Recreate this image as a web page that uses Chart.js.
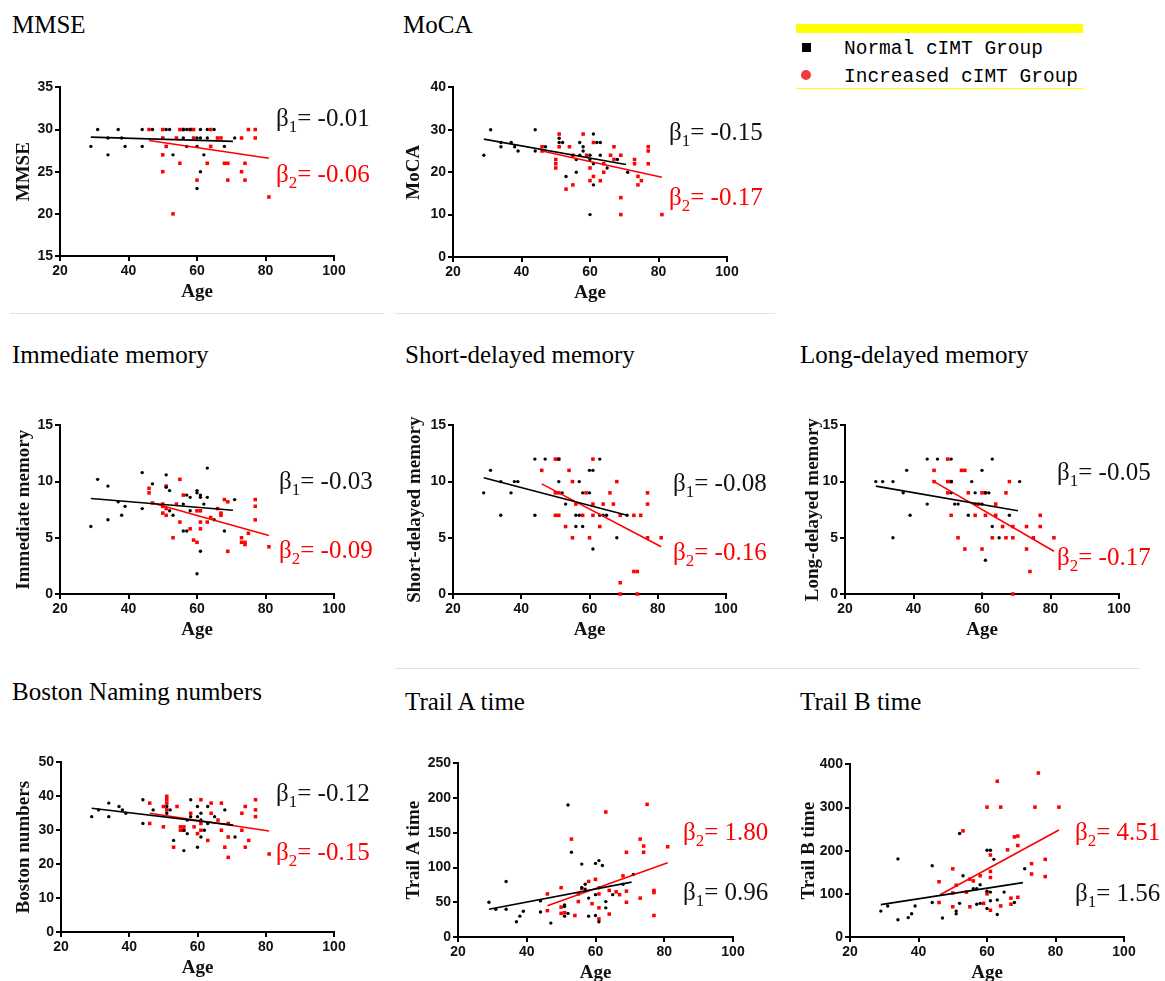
<!DOCTYPE html>
<html>
<head>
<meta charset="utf-8">
<script src="https://cdn.jsdelivr.net/npm/chart.js@4.4.0/dist/chart.umd.min.js"></script>
<style>
  body { margin: 0; background: #fff; }
  #page { position: relative; width: 1165px; height: 981px; overflow: hidden; background: #fff; }
  canvas { position: absolute; }
  .ttl { position: absolute; font-family: "Liberation Serif", "Times New Roman", serif; font-size: 25px; line-height: 25px; white-space: nowrap; color: #000; }
  .beta { position: absolute; font-family: "Liberation Serif", "Times New Roman", serif; font-size: 25px; line-height: 24px; white-space: nowrap; }
  .beta sub { font-size: 17px; line-height: 0; vertical-align: -6px; }
  .sep { position: absolute; height: 1px; background: #e4e4e4; }
  .leg { position: absolute; font-family: "Liberation Mono", "DejaVu Sans Mono", monospace; font-size: 19.5px; line-height: 20px; white-space: nowrap; color: #000; }
</style>
</head>
<body>
<div id="page"></div>
<script>
// age axis is the same in every panel
const ageTicks = [20, 40, 60, 80, 100];

// [age, score] pairs
const mmseNormal = [[29,28],[31,30],[34,29],[34,27],[37,30],[38,29],[39,28],[44,30],[44,28],[47,30],[51,30],[52,30],[53,27],[56,29],[56,30],[57,30],[58,30],[57,28],[60,28],[60,29],[61,29],[61,30],[60,23],[61,25],[62,27],[63,29],[63,30],[65,30],[68,28],[71,29]];
const mmseIncreased = [[46,30],[50,30],[50,29],[50,27],[50,25],[51,28],[53,20],[54,29],[55,30],[55,26],[56,30],[58,30],[59,30],[59,29],[60,24],[63,26],[64,30],[64,28],[66,29],[67,29],[68,26],[69,26],[69,24],[73,29],[73,25],[74,26],[74,24],[75,30],[77,30],[77,29],[81,22]];
const mmseFitNormal = [[29,29.1],[70.5,28.6]];
const mmseFitIncreased = [[46,28.7],[81,26.6]];

const mocaNormal = [[29,24],[31,30],[34,27],[34,26],[37,27],[38,26],[39,25],[44,30],[44,25],[47,26],[51,28],[51,27],[52,27],[53,19],[56,20],[56,23],[57,27],[57,24],[58,26],[58,25],[60,24],[60,23],[60,10],[61,29],[61,17],[61,22],[62,27],[63,27],[63,24],[65,21],[68,23],[71,20]];
const mocaIncreased = [[46,26],[46,25],[50,23],[50,22],[50,21],[51,29],[51,26],[53,16],[54,26],[55,24],[55,17],[58,29],[59,24],[60,21],[60,18],[61,27],[61,19],[63,18],[64,22],[64,20],[66,24],[67,26],[67,23],[69,24],[69,14],[69,10],[73,23],[73,22],[74,19],[74,17],[75,18],[77,26],[77,25],[77,22],[81,10]];
const mocaFitNormal = [[29,27.8],[70.5,21.8]];
const mocaFitIncreased = [[46,25.0],[81,18.8]];

const immNormal = [[29,6.0],[31,10.2],[34,9.6],[34,6.6],[37,8.2],[38,7.0],[39,7.8],[44,10.8],[44,7.6],[47,9.8],[51,10.6],[51,9.5],[52,9.2],[52,7.4],[53,7.0],[56,8.0],[56,5.6],[57,5.6],[57,8.8],[58,8.6],[58,7.4],[60,9.2],[60,9.0],[60,1.8],[61,8.8],[61,8.6],[61,3.8],[62,8.0],[63,11.2],[63,8.6],[65,6.6],[68,5.6],[71,8.4]];
const immIncreased = [[46,9.4],[46,9.0],[47,8.1],[50,8.0],[50,7.8],[50,7.2],[51,9.6],[51,7.6],[51,7.0],[53,5.0],[54,8.0],[55,10.2],[55,6.4],[56,8.8],[58,5.8],[59,4.8],[60,4.6],[60,7.4],[61,7.4],[61,6.4],[61,5.8],[63,6.4],[64,6.8],[66,7.6],[67,7.2],[67,7.0],[68,8.4],[69,8.2],[69,3.8],[73,5.0],[73,4.6],[74,4.6],[74,4.4],[75,5.4],[77,8.4],[77,7.8],[77,6.6],[81,4.2]];
const immFitNormal = [[29,8.5],[70.5,7.45]];
const immFitIncreased = [[47,8.1],[81,5.2]];

const shortNormal = [[29,9],[31,11],[34,10],[34,7],[37,9],[38,10],[39,10],[44,12],[44,7],[47,12],[51,12],[51,10],[52,9],[53,8],[56,6],[56,7],[57,7],[57,10],[58,6],[58,9],[60,9],[60,11],[61,11],[61,4],[63,12],[63,7],[64,7],[65,7],[68,5],[71,7]];
const shortIncreased = [[46,11],[50,12],[51,12],[50,9],[51,9],[50,7],[51,7],[53,6],[54,11],[55,10],[55,5],[56,8],[58,7],[59,9],[60,5],[61,12],[61,8],[61,7],[63,6],[64,8],[66,9],[67,8],[68,10],[69,7],[69,1],[69,0],[73,7],[73,2],[74,2],[74,0],[75,7],[77,9],[77,8],[77,5],[81,5]];
const shortFitNormal = [[29,10.35],[71,7.0]];
const shortFitIncreased = [[46,9.8],[81,4.2]];

const longNormal = [[29,10],[31,10],[34,10],[34,5],[37,9],[38,11],[39,7],[44,12],[44,8],[47,12],[51,12],[51,10],[51,9],[52,8],[53,8],[56,7],[57,10],[58,9],[58,8],[60,11],[60,8],[60,0],[61,9],[62,9],[61,3],[63,12],[63,6],[65,5],[68,7],[71,10]];
const longIncreased = [[46,11],[46,10],[50,12],[50,10],[51,10],[50,9],[51,7],[53,5],[54,11],[55,11],[55,4],[56,9],[58,7],[59,8],[60,4],[60,9],[61,9],[61,7],[63,5],[64,8],[64,7],[66,6],[67,5],[67,9],[68,10],[69,6],[69,5],[69,0],[73,6],[73,4],[74,2],[75,5],[77,7],[77,6],[81,5]];
const longFitNormal = [[29,9.6],[70.5,7.4]];
const longFitIncreased = [[46,10.0],[81,3.8]];

const bostonNormal = [[29,34],[31,36],[34,38],[34,34],[37,37],[38,36],[39,35],[44,39],[44,32],[47,36],[51,37],[51,35],[52,36],[53,27],[56,30],[56,24],[57,29],[57,33],[58,39],[58,34],[60,37],[60,34],[60,25],[61,33],[61,35],[61,28],[62,30],[63,37],[63,32],[65,34],[68,36],[71,28]];
const bostonIncreased = [[46,38],[46,32],[50,37],[50,31],[51,40],[51,39],[51,38],[51,36],[53,25],[54,37],[55,31],[56,31],[55,30],[56,30],[58,35],[59,31],[60,29],[61,39],[61,32],[61,30],[63,27],[64,38],[64,35],[66,33],[67,38],[67,30],[68,25],[69,32],[69,28],[69,22],[73,35],[73,30],[74,37],[74,25],[75,27],[77,39],[77,36],[77,34],[81,23]];
const bostonFitNormal = [[29,36.5],[70.5,31.5]];
const bostonFitIncreased = [[46,35.0],[81,29.8]];

const trailANormal = [[29,50],[31,40],[34,40],[34,80],[37,22],[38,30],[39,37],[44,52],[44,36],[47,20],[51,46],[51,44],[51,30],[52,190],[52,34],[53,122],[56,105],[56,71],[57,76],[57,69],[58,30],[58,56],[60,106],[60,61],[60,31],[61,110],[61,71],[61,22],[62,103],[63,51],[63,42],[65,61],[68,76],[71,90]];
const trailAIncreased = [[46,62],[46,38],[50,71],[50,43],[50,34],[51,35],[53,141],[54,31],[55,51],[55,62],[56,70],[58,80],[59,48],[60,83],[61,42],[61,62],[61,26],[63,180],[64,67],[64,33],[66,65],[67,61],[68,88],[69,122],[69,66],[69,50],[73,141],[73,56],[74,131],[74,122],[75,191],[77,67],[77,64],[77,31],[81,130]];
const trailAFitNormal = [[29,40],[70.5,79]];
const trailAFitIncreased = [[46,45],[81,107]];

const trailBNormal = [[29,60],[31,72],[34,40],[34,181],[37,45],[38,54],[39,72],[44,80],[44,165],[47,44],[51,60],[51,54],[52,240],[52,78],[53,142],[56,112],[57,112],[57,76],[58,121],[58,78],[60,201],[60,106],[60,66],[61,201],[61,104],[61,84],[62,180],[63,52],[63,86],[65,104],[68,80],[71,158]];
const trailBIncreased = [[46,128],[46,80],[50,158],[50,102],[50,70],[51,120],[53,246],[54,104],[55,134],[55,70],[56,130],[58,142],[59,78],[60,301],[60,100],[61,190],[61,152],[61,138],[61,62],[63,361],[64,301],[64,72],[66,202],[67,90],[67,76],[68,232],[69,234],[69,212],[69,92],[73,170],[73,146],[74,301],[75,380],[77,180],[77,140],[81,301]];
const trailBFitNormal = [[29,75],[70.5,126]];
const trailBFitIncreased = [[46.3,98],[81,248]];

const panels = [
  { title: 'MMSE', yLabel: 'MMSE', yMin: 15, yMax: 35, yStep: 5, normal: mmseNormal, increased: mmseIncreased, fitN: mmseFitNormal, fitI: mmseFitIncreased, b1: '-0.01', b2: '-0.06' },
  { title: 'MoCA', yLabel: 'MoCA', yMin: 0, yMax: 40, yStep: 10, normal: mocaNormal, increased: mocaIncreased, fitN: mocaFitNormal, fitI: mocaFitIncreased, b1: '-0.15', b2: '-0.17' },
  { title: 'Immediate memory', yLabel: 'Immediate memory', yMin: 0, yMax: 15, yStep: 5, normal: immNormal, increased: immIncreased, fitN: immFitNormal, fitI: immFitIncreased, b1: '-0.03', b2: '-0.09' },
  { title: 'Short-delayed memory', yLabel: 'Short-delayed memory', yMin: 0, yMax: 15, yStep: 5, normal: shortNormal, increased: shortIncreased, fitN: shortFitNormal, fitI: shortFitIncreased, b1: '-0.08', b2: '-0.16' },
  { title: 'Long-delayed memory', yLabel: 'Long-delayed memory', yMin: 0, yMax: 15, yStep: 5, normal: longNormal, increased: longIncreased, fitN: longFitNormal, fitI: longFitIncreased, b1: '-0.05', b2: '-0.17' },
  { title: 'Boston Naming numbers', yLabel: 'Boston numbers', yMin: 0, yMax: 50, yStep: 10, normal: bostonNormal, increased: bostonIncreased, fitN: bostonFitNormal, fitI: bostonFitIncreased, b1: '-0.12', b2: '-0.15' },
  { title: 'Trail A time', yLabel: 'Trail A time', yMin: 0, yMax: 250, yStep: 50, normal: trailANormal, increased: trailAIncreased, fitN: trailAFitNormal, fitI: trailAFitIncreased, b1: '0.96', b2: '1.80' },
  { title: 'Trail B time', yLabel: 'Trail B time', yMin: 0, yMax: 400, yStep: 100, normal: trailBNormal, increased: trailBIncreased, fitN: trailBFitNormal, fitI: trailBFitIncreased, b1: '1.56', b2: '4.51' }
];

// where each panel sits on the page: plot box [left, top, right, bottom], y-title gap,
// title top-left, centre lines of the two beta labels
const layout = [
  { box: [60, 87, 334, 256], gap: 36, title: [12, 12], b1: [276, 118], b2: [276, 174] },
  { box: [453, 87, 727, 257], gap: 39, title: [403, 12], b1: [669, 132], b2: [669, 197] },
  { box: [60, 425, 334, 594], gap: 36, title: [12, 342], b1: [279, 481], b2: [279, 550] },
  { box: [453, 425, 726, 594], gap: 38, title: [405, 342], b1: [673, 483], b2: [673, 552] },
  { box: [845, 425, 1119, 594], gap: 32, title: [800, 342], b1: [1057, 472], b2: [1057, 557] },
  { box: [61, 762, 334, 932], gap: 37, title: [12, 679], b1: [276, 793], b2: [276, 852] },
  { box: [458, 763, 733, 937], gap: 44, title: [405, 689], b1: [683, 892], b2: [683, 832] },
  { box: [850, 764, 1124, 937], gap: 41, title: [800, 689], b1: [1075, 893], b2: [1075, 832] }
];

const page = document.getElementById('page');
const tickFont = { family: 'Liberation Sans, Arial, sans-serif', size: 14, weight: 'bold' };
const titleFont = { family: 'Liberation Serif, Times New Roman, serif', size: 19, weight: 'bold' };

function addText(cls, html, left, top, color) {
  const d = document.createElement('div');
  d.className = cls;
  d.innerHTML = html;
  d.style.left = left + 'px';
  d.style.top = top + 'px';
  if (color) d.style.color = color;
  page.appendChild(d);
}

function drawPanel(p, L) {
  const [x0, y0, x1, y1] = L.box;
  const padL = 60, padT = 10, padR = 20, padB = 48;
  const w = (x1 - x0) + padL + padR;
  const h = (y1 - y0) + padT + padB;
  const cv = document.createElement('canvas');
  cv.width = w; cv.height = h;
  cv.style.left = (x0 - padL) + 'px';
  cv.style.top = (y0 - padT) + 'px';
  cv.style.width = w + 'px';
  cv.style.height = h + 'px';
  page.appendChild(cv);

  const pts = arr => arr.map(d => ({ x: d[0], y: d[1] }));
  const axisGrid = { drawOnChartArea: false, drawTicks: true, tickLength: 5, color: '#000', lineWidth: 2 };
  const axisBorder = { display: true, color: '#000', width: 2 };

  new Chart(cv.getContext('2d'), {
    type: 'scatter',
    data: {
      datasets: [
        { data: pts(p.increased), pointStyle: 'rect', pointRadius: 2.5, backgroundColor: '#ff0000', borderWidth: 0, clip: false, order: 4 },
        { data: pts(p.normal), pointStyle: 'circle', pointRadius: 1.7, backgroundColor: '#000', borderWidth: 0, clip: false, order: 3 },
        { data: pts(p.fitI), showLine: true, borderColor: '#ff0000', borderWidth: 1.6, pointRadius: 0, order: 2 },
        { data: pts(p.fitN), showLine: true, borderColor: '#000', borderWidth: 1.6, pointRadius: 0, order: 1 }
      ]
    },
    options: {
      responsive: false,
      animation: false,
      events: [],
      layout: { padding: { left: 0, top: padT, right: padR, bottom: 0 } },
      plugins: { legend: { display: false }, tooltip: { enabled: false } },
      scales: {
        x: {
          type: 'linear', min: ageTicks[0], max: ageTicks[ageTicks.length - 1],
          afterBuildTicks: s => { s.ticks = ageTicks.map(v => ({ value: v })); },
          afterFit: s => { s.height = padB; },
          grid: axisGrid, border: axisBorder,
          ticks: { color: '#111', font: tickFont, padding: 2, maxRotation: 0 },
          title: { display: true, text: 'Age', color: '#111', font: titleFont, padding: { top: 0, bottom: 1 } }
        },
        y: {
          type: 'linear', min: p.yMin, max: p.yMax,
          afterFit: s => { s.width = padL; },
          grid: axisGrid, border: axisBorder,
          ticks: { stepSize: p.yStep, color: '#111', font: tickFont, padding: 2 },
          title: { display: true, text: p.yLabel, color: '#111', font: titleFont, padding: { top: padL - L.gap - 11.4, bottom: 0 } }
        }
      }
    }
  });

  addText('ttl', p.title, L.title[0], L.title[1]);
  addText('beta', 'β<sub>1</sub>= ' + p.b1, L.b1[0], L.b1[1] - 12, '#111');
  addText('beta', 'β<sub>2</sub>= ' + p.b2, L.b2[0], L.b2[1] - 12, '#ff0000');
}

panels.forEach((p, i) => drawPanel(p, layout[i]));

// faint separators between rows
[[10, 313, 375], [395, 313, 380], [395, 668, 745]].forEach(([x, y, w]) => {
  const s = document.createElement('div');
  s.className = 'sep';
  s.style.left = x + 'px'; s.style.top = y + 'px'; s.style.width = w + 'px';
  page.appendChild(s);
});

// group legend, top right
const bar = document.createElement('div');
bar.style.cssText = 'position:absolute;left:796px;top:24px;width:287px;height:9px;background:#ffff00;';
page.appendChild(bar);
const rule = document.createElement('div');
rule.style.cssText = 'position:absolute;left:796px;top:88px;width:287px;height:1px;background:#ffff00;';
page.appendChild(rule);
const sq = document.createElement('div');
sq.style.cssText = 'position:absolute;left:802px;top:43px;width:9px;height:9px;background:#000;';
page.appendChild(sq);
const dot = document.createElement('div');
dot.style.cssText = 'position:absolute;left:801px;top:70px;width:10px;height:10px;border-radius:50%;background:#f03c3c;';
page.appendChild(dot);
addText('leg', 'Normal cIMT Group', 844, 39);
addText('leg', 'Increased cIMT Group', 844, 67);
</script>
</body>
</html>
